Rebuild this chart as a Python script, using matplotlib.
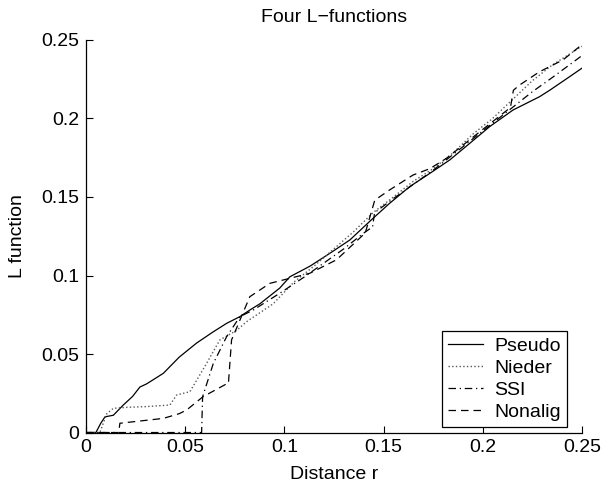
import matplotlib
matplotlib.use('Agg')
import matplotlib.pyplot as plt

plt.rcParams['font.family'] = ['Liberation Sans', 'DejaVu Sans']

pseudo_r = [0, 0.005, 0.0075, 0.0096, 0.0138, 0.0188, 0.0235, 0.0272, 0.0306, 0.039,
            0.047, 0.0558, 0.064, 0.071, 0.0776, 0.0826, 0.0877, 0.0977, 0.1028, 0.113,
            0.1229, 0.133, 0.1447, 0.1531, 0.1632, 0.1733, 0.1834, 0.1935, 0.2035, 0.2153,
            0.2287, 0.2338, 0.2438, 0.25]
pseudo_L = [0, 0, 0.006, 0.010, 0.011, 0.0175, 0.023, 0.029, 0.031, 0.0377,
            0.048, 0.057, 0.064, 0.0696, 0.0738, 0.078, 0.082, 0.092, 0.0992, 0.106,
            0.1141, 0.1226, 0.1364, 0.146, 0.1566, 0.165, 0.1736, 0.1842, 0.1948, 0.2054,
            0.2139, 0.218, 0.2266, 0.232]

nieder_r = [0, 0.007, 0.0105, 0.0138, 0.02, 0.03, 0.0423, 0.0457, 0.0524, 0.0608,
            0.0675, 0.0759, 0.081, 0.0944, 0.105, 0.115, 0.125, 0.135, 0.1447, 0.155,
            0.165, 0.175, 0.185, 0.195, 0.205, 0.215, 0.225, 0.235, 0.25]
nieder_L = [0, 0, 0.012, 0.0154, 0.016, 0.0165, 0.0175, 0.0239, 0.026, 0.044,
            0.059, 0.065, 0.0706, 0.082, 0.096, 0.106, 0.117, 0.128, 0.140, 0.150,
            0.160, 0.168, 0.178, 0.190, 0.200, 0.212, 0.224, 0.234, 0.246]

ssi_r = [0, 0.0583, 0.0588, 0.0642, 0.0709, 0.0776, 0.0843, 0.0977, 0.11, 0.12,
         0.13, 0.14, 0.1445, 0.1455, 0.155, 0.165, 0.175, 0.185, 0.195, 0.205,
         0.215, 0.225, 0.235, 0.25]
ssi_L = [0, 0, 0.0228, 0.044, 0.061, 0.0738, 0.078, 0.0887, 0.099, 0.108,
         0.117, 0.127, 0.131, 0.140, 0.149, 0.158, 0.167, 0.177, 0.187, 0.197,
         0.207, 0.217, 0.226, 0.240]

nonalig_r = [0, 0.0165, 0.0171, 0.039, 0.047, 0.0507, 0.059, 0.0709, 0.0718, 0.0734,
             0.0826, 0.0927, 0.1128, 0.1263, 0.1397, 0.1405, 0.1456, 0.1531, 0.1649, 0.1733,
             0.1817, 0.195, 0.205, 0.214, 0.2155, 0.2186, 0.2287, 0.2405, 0.25]
nonalig_L = [0, 0, 0.0059, 0.009, 0.012, 0.0143, 0.0228, 0.031, 0.031, 0.059,
             0.0865, 0.095, 0.1014, 0.110, 0.1258, 0.1258, 0.148, 0.1545, 0.164, 0.168,
             0.1746, 0.188, 0.198, 0.207, 0.218, 0.2213, 0.2298, 0.2373, 0.247]

ticks = [0, 0.05, 0.1, 0.15, 0.2, 0.25]
tick_labels = ['0', '0.05', '0.1', '0.15', '0.2', '0.25']

fig = plt.figure(figsize=(6.08, 4.9), dpi=100)
ax = fig.add_axes([0.1414, 0.1173, 0.8156, 0.8011])

ax.plot(pseudo_r, pseudo_L, '-', color='black', lw=0.9, label='Pseudo')
ax.plot(nieder_r, nieder_L, ':', color='0.35', lw=1.0, label='Nieder')
ax.plot(ssi_r, ssi_L, color='black', lw=0.9, dashes=(6, 3, 1, 3), label='SSI')
ax.plot(nonalig_r, nonalig_L, color='black', lw=0.9, dashes=(6, 4), label='Nonalig')

ax.set_xlim(0, 0.25)
ax.set_ylim(0, 0.25)
ax.set_xticks(ticks)
ax.set_xticklabels(tick_labels)
ax.set_yticks(ticks)
ax.set_yticklabels(tick_labels)
ax.tick_params(direction='in', length=5, width=0.8, labelsize=14, pad=5)
ax.spines['top'].set_visible(False)
ax.spines['right'].set_visible(False)
for s in ('left', 'bottom'):
    ax.spines[s].set_linewidth(0.9)

ax.set_title('Four L\u2212functions', fontsize=14, pad=13)
ax.set_xlabel('Distance r', fontsize=14, labelpad=7)
ax.set_ylabel('L function', fontsize=14, labelpad=11)

leg = ax.legend(loc='lower right', bbox_to_anchor=(0.97, 0.014), borderaxespad=0,
                fontsize=14, fancybox=False, edgecolor='black', framealpha=1,
                handlelength=1.8, labelspacing=0.22, borderpad=0.33, handletextpad=0.55)
leg.get_frame().set_linewidth(0.9)

plt.savefig('out.png', dpi=100)
plt.close()
